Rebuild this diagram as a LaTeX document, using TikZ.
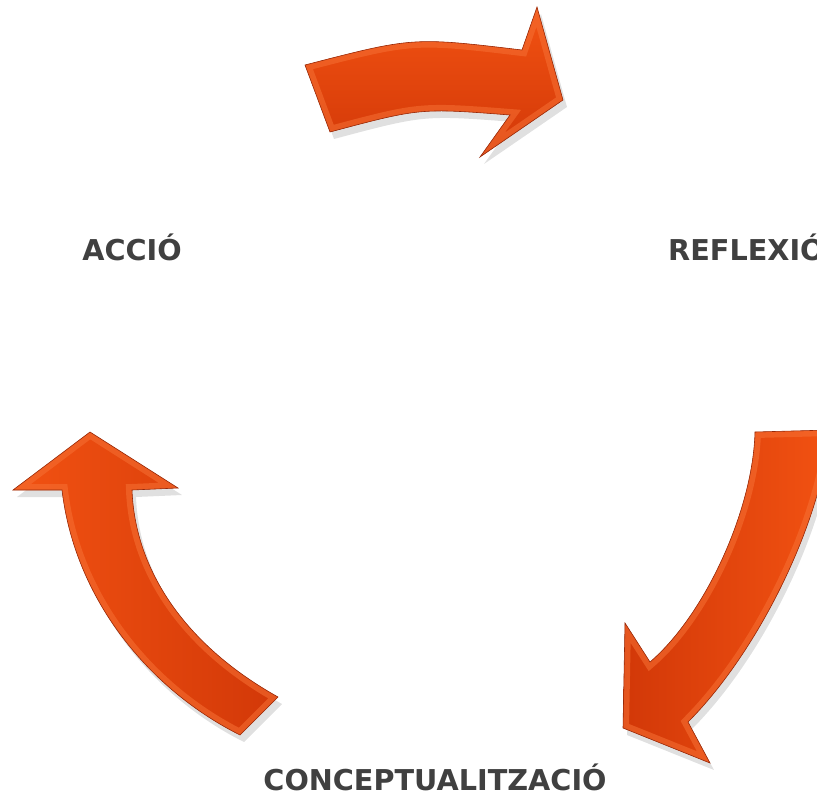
\documentclass[tikz,border=0pt]{standalone}
\usepackage{fontspec}
\setsansfont{DejaVu Sans}
\usepackage{xcolor}
\definecolor{ArrowLight}{RGB}{242,82,18}
\definecolor{ArrowDark}{RGB}{210,56,8}
\definecolor{ArrowBevel}{RGB}{246,112,52}
\definecolor{ArrowEdge}{RGB}{150,40,8}
\definecolor{StageGray}{RGB}{64,64,64}
\usepackage{tikz}

% arrow outlines, in pixels of the picture (y grows downwards)
\newcommand*{\TopArrow}{(305,65) .. controls (413,37) .. (522,50) -- (537,7) -- (563,100) -- (480,157) -- (510,115) .. controls (420,108) .. (330,132) -- cycle}
\newcommand*{\RightArrow}{(755,432) .. controls (753,510) and (705,615) .. (650,662) -- (625,623) -- (623,728) -- (710,763) -- (688,722) .. controls (760,650) and (822,520) .. (830,430) -- cycle}
\newcommand*{\LeftArrow}{(90,432) -- (178,488) -- (132,490) .. controls (135,570) and (185,645) .. (278,697) -- (240,735) .. controls (150,690) and (75,600) .. (62,490) -- (13,490) -- cycle}

% #1 outline, #2 shading angle
\newcommand*{\DrawCycleArrow}[2]{%
  \fill[arrowshadow] #1;
  \begin{scope}
    \clip #1;
    \shade[arrowface, shading angle=#2] #1;
    \draw[arrowbevel] #1;
  \end{scope}
  \draw[arrowedge] #1;
}

\tikzset{
  arrowshadow/.style={fill=black, opacity=0.12, shift={(4,7)}},
  arrowface/.style={top color=ArrowLight, bottom color=ArrowDark},
  arrowbevel/.style={draw=ArrowBevel, line width=3.6mm, line join=miter, opacity=0.55},
  arrowedge/.style={draw=ArrowEdge, line width=0.5pt, line join=miter},
  stagelabel/.style={font=\sffamily\bfseries\fontsize{24.5}{30}\selectfont, text=StageGray, inner sep=0pt},
}

\begin{document}
\begin{tikzpicture}[x=0.3mm,y=-0.3mm]
    \useasboundingbox (0,0) rectangle (817,802);
    \clip (0,0) rectangle (817,802);
    \DrawCycleArrow{\TopArrow}{0}
    \DrawCycleArrow{\RightArrow}{-90}
    \DrawCycleArrow{\LeftArrow}{90}
    \node[stagelabel, anchor=base] (accio) at (132,260) {ACCIÓ};
    \node[stagelabel, anchor=base west] (reflexio) at (668,260) {REFLEXIÓ};
    \node[stagelabel, anchor=base] (concept) at (435,790) {CONCEPTUALITZACIÓ};
\end{tikzpicture}
\end{document}
